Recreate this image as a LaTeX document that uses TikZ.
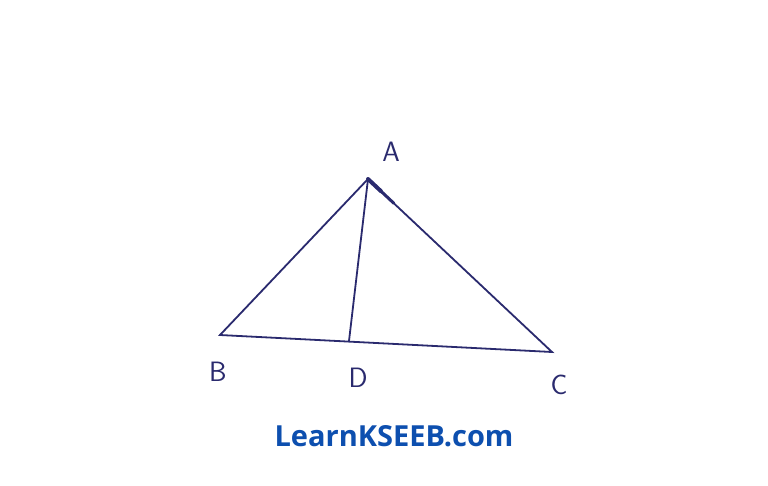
\documentclass[tikz,border=0pt]{standalone}
\usepackage{fontspec}
\usetikzlibrary{calc}
\newfontfamily\wmfont{Open Sans}
\definecolor{ink}{HTML}{2A2A6E}
\definecolor{wm}{HTML}{0D4FAF}
\begin{document}
\begin{tikzpicture}[x=1pt,y=-1pt,
  edge/.style={draw=ink,line width=1.8pt,line cap=round},
  lbl/.style={text=ink,font=\sffamily\fontsize{28}{28}\selectfont,inner sep=0pt}]
\useasboundingbox[fill=white] (0,0) rectangle (768,485);
\coordinate (A) at (368,179);
\coordinate (B) at (220,335);
\coordinate (C) at (552,352);
\coordinate (D) at (349,341);
\draw[edge] (B) -- (A) -- (C) -- cycle;
\draw[edge] (A) -- (D);
\draw[ink,line width=4pt,line cap=round] (A) -- ($(A)!0.07!(C)$);
\draw[ink,line width=3pt,line cap=round] ($(A)!0.07!(C)$) -- ($(A)!0.14!(C)$);
\node[lbl] (la) at (391,152) {A};
\node[lbl] (lb) at (218,372) {B};
\node[lbl] (ld) at (358,378) {D};
\node[lbl] (lc) at (559,385) {C};
\node[text=wm,font=\wmfont\bfseries\fontsize{29}{29}\selectfont,inner sep=0pt] (w) at (394,436) {LearnKSEEB.com};
\end{tikzpicture}
\end{document}
